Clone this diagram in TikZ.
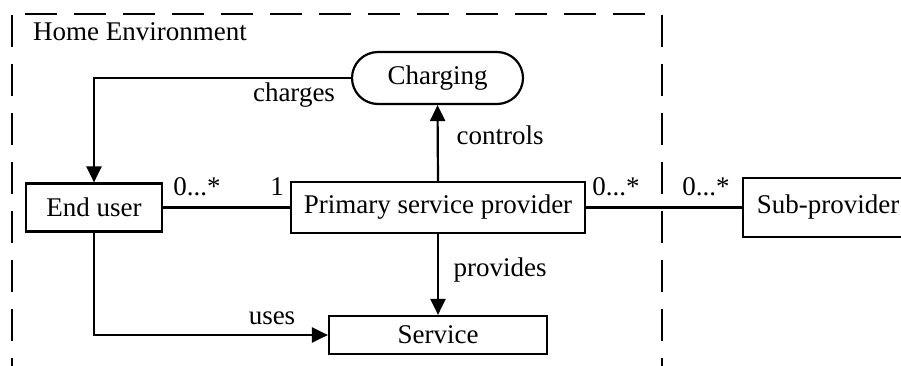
\documentclass[tikz,border=0pt]{standalone}
\usepackage{fontspec}
\setmainfont{Liberation Serif}
\usetikzlibrary{arrows.meta}
\begin{document}
\begin{tikzpicture}[x=1pt,y=-1pt,
  every node/.style={font=\fontsize{27}{32}\selectfont, inner sep=0pt},
  box/.style={draw, line width=2.2pt, minimum width=#1},
  arr/.style={line width=2.2pt, -{Triangle[length=16pt,width=15pt]}},
  link/.style={line width=2.2pt},
  envline/.style={line width=2.2pt, dash pattern=on 32pt off 17pt}]
\useasboundingbox (0,0) rectangle (901,366);
\clip (0,0) rectangle (901,366);
% environment frame
\draw[envline, dash phase=36pt] (12,14) -- (662,14);
\draw[envline] (12,15) -- (12,400);
\draw[envline] (662,15) -- (662,400);
\node[anchor=base west] (envlbl) at (33,41) {Home Environment};
% nodes
\node[box=136pt, minimum height=48pt] (enduser) at (94,207.5) {End user};
\node[box=294pt, minimum height=51pt] (primary) at (438,207.5) {Primary service provider};
\node[box=170pt, minimum height=59pt] (sub) at (828,207.5) {Sub-provider};
\node[box=218pt, minimum height=38pt] (service) at (438,335) {Service};
\node[draw, line width=2.2pt, rounded corners=26pt, minimum width=171pt, minimum height=52pt] (charging) at (437.5,78) {Charging};
% connectors
\draw[arr] (charging.west) -| (enduser.north);
\draw[arr] (primary.north) -- (charging.south);
\draw[arr] (primary.south) -- (service.north);
\draw[arr] (enduser.south) |- (service.west);
\draw[link] (enduser.east) -- (primary.west);
\draw[link] (primary.east) -- (sub.west);
% labels
\node[anchor=base] (lcharges) at (294,102) {charges};
\node[anchor=base] (lcontrols) at (500,145) {controls};
\node[anchor=base] (lprovides) at (500,276) {provides};
\node[anchor=base] (luses) at (272,324) {uses};
\node[anchor=base] (m1) at (197,195) {0...*};
\node[anchor=base] (m2) at (277,195) {1};
\node[anchor=base] (m3) at (616,195) {0...*};
\node[anchor=base] (m4) at (706,195) {0...*};
\end{tikzpicture}
\end{document}
